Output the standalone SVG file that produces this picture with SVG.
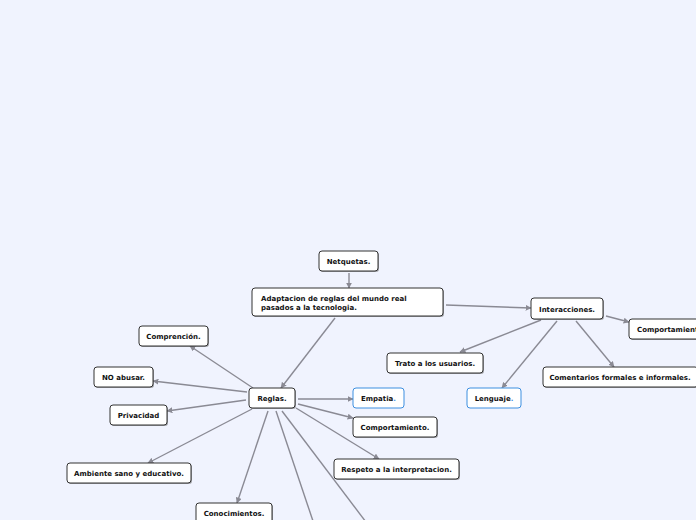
<svg xmlns="http://www.w3.org/2000/svg" width="696" height="520" viewBox="0 0 696 520">
<style>
.bg{fill:#f0f3fe}
.n rect.s{fill:#555;opacity:0.5}
.n rect.b{fill:#fff;stroke:#333;stroke-width:1}
.n.blue rect.b{stroke:#3d8fe0}
.n text{font-family:"DejaVu Sans",Verdana,sans-serif;font-weight:bold;font-size:7px;fill:#111}
.c line{stroke:#8a8a94;stroke-width:1.4;marker-end:url(#ah)}
.dot{fill:#3d8fe0}
</style>
<defs>
<marker id="ah" viewBox="0 0 10 10" refX="9" refY="5" markerWidth="6" markerHeight="6" orient="auto" markerUnits="userSpaceOnUse"><path d="M0,0 L10,5 L0,10 z" fill="#8a8a94"/></marker>
</defs>
<rect class="bg" x="0" y="0" width="696" height="520"/>
<g class="c">
<line x1="349" y1="273" x2="349" y2="288"/>
<line x1="446" y1="305" x2="531" y2="308"/>
<line x1="335" y1="318" x2="281" y2="388"/>
<line x1="606" y1="316" x2="629" y2="322"/>
<line x1="541" y1="320" x2="460" y2="352"/>
<line x1="557" y1="321" x2="502" y2="388"/>
<line x1="576" y1="321" x2="614" y2="367"/>
<line x1="253" y1="388" x2="190" y2="346"/>
<line x1="247" y1="392" x2="153" y2="381"/>
<line x1="246" y1="400" x2="167" y2="411"/>
<line x1="252" y1="409" x2="148" y2="463"/>
<line x1="268" y1="411" x2="237" y2="503"/>
<line x1="276" y1="411" x2="316" y2="530" style="marker-end:none"/>
<line x1="282" y1="411" x2="372" y2="530" style="marker-end:none"/>
<line x1="298" y1="399" x2="353" y2="399"/>
<line x1="298" y1="404" x2="353" y2="418"/>
<line x1="296" y1="408" x2="379" y2="459"/>
</g>
<g id="netquetas" class="n"><rect class="s" x="320" y="252" width="59" height="20" rx="3"/><rect class="b" x="319" y="251" width="59" height="20" rx="3"/><text x="348.5" y="264" text-anchor="middle">Netquetas.</text></g>
<g id="adaptacion" class="n"><rect class="s" x="253" y="289" width="191" height="28" rx="3"/><rect class="b" x="252" y="288" width="191" height="28" rx="3"/><text x="261" y="301">Adaptacion de reglas del mundo real</text><text x="261" y="310">pasados a la tecnologia.</text></g>
<g id="interacciones" class="n"><rect class="s" x="532" y="299" width="72" height="21" rx="3"/><rect class="b" x="531" y="298" width="72" height="21" rx="3"/><text x="567" y="311.5" text-anchor="middle">Interacciones.</text></g>
<g id="comportamiento2" class="n"><rect class="s" x="630" y="320" width="80" height="20" rx="3"/><rect class="b" x="629" y="319" width="80" height="20" rx="3"/><text x="637" y="332">Comportamiento.</text></g>
<g id="trato" class="n"><rect class="s" x="388" y="354" width="96" height="20" rx="3"/><rect class="b" x="387" y="353" width="96" height="20" rx="3"/><text x="435" y="366" text-anchor="middle">Trato a los usuarios.</text></g>
<g id="comentarios" class="n"><rect class="s" x="544" y="368" width="155" height="20" rx="3"/><rect class="b" x="543" y="367" width="155" height="20" rx="3"/><text x="620" y="380" text-anchor="middle">Comentarios formales e informales.</text></g>
<g id="lenguaje" class="n blue"><rect class="b" x="467" y="388" width="54" height="20" rx="3"/><text x="494" y="401" text-anchor="middle">Lenguaje<tspan class="dot">.</tspan></text></g>
<g id="comprencion" class="n"><rect class="s" x="140" y="327" width="69" height="20" rx="3"/><rect class="b" x="139" y="326" width="69" height="20" rx="3"/><text x="173.5" y="339" text-anchor="middle">Comprención.</text></g>
<g id="noabusar" class="n"><rect class="s" x="95" y="368" width="59" height="20" rx="3"/><rect class="b" x="94" y="367" width="59" height="20" rx="3"/><text x="123.5" y="380" text-anchor="middle">NO abusar.</text></g>
<g id="privacidad" class="n"><rect class="s" x="111" y="406" width="57" height="20" rx="3"/><rect class="b" x="110" y="405" width="57" height="20" rx="3"/><text x="138.5" y="418" text-anchor="middle">Privacidad</text></g>
<g id="reglas" class="n"><rect class="s" x="250" y="389" width="46" height="20" rx="3"/><rect class="b" x="249" y="388" width="46" height="20" rx="3"/><text x="272" y="401" text-anchor="middle">Reglas.</text></g>
<g id="empatia" class="n blue"><rect class="b" x="353" y="388" width="51" height="20" rx="3"/><text x="378.5" y="401" text-anchor="middle">Empatia<tspan class="dot">.</tspan></text></g>
<g id="comportamiento" class="n"><rect class="s" x="354" y="418" width="84" height="20" rx="3"/><rect class="b" x="353" y="417" width="84" height="20" rx="3"/><text x="395" y="430" text-anchor="middle">Comportamiento.</text></g>
<g id="respeto" class="n"><rect class="s" x="335" y="460" width="125" height="20" rx="3"/><rect class="b" x="334" y="459" width="125" height="20" rx="3"/><text x="396.5" y="472" text-anchor="middle">Respeto a la interpretacion.</text></g>
<g id="ambiente" class="n"><rect class="s" x="68" y="464" width="124" height="20" rx="3"/><rect class="b" x="67" y="463" width="124" height="20" rx="3"/><text x="129" y="476" text-anchor="middle">Ambiente sano y educativo.</text></g>
<g id="conocimientos" class="n"><rect class="s" x="197" y="504" width="76" height="20" rx="3"/><rect class="b" x="196" y="503" width="76" height="20" rx="3"/><text x="234" y="516" text-anchor="middle">Conocimientos.</text></g>
</svg>
